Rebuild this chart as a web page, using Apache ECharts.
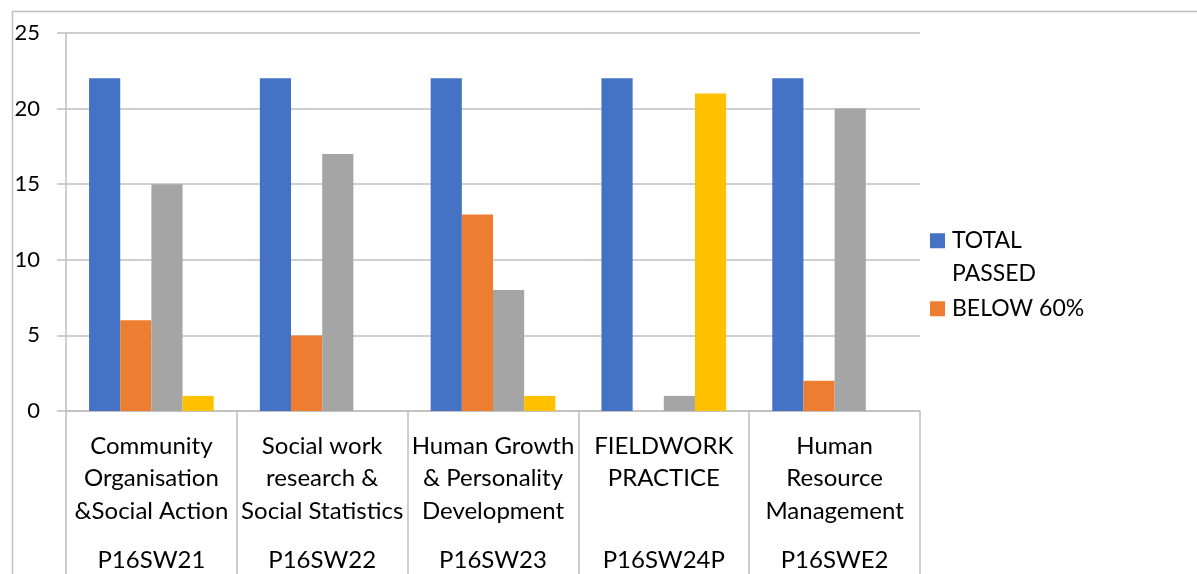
<!DOCTYPE html>
<html>
<head>
<meta charset="utf-8">
<script src="https://cdn.jsdelivr.net/npm/echarts@6/dist/echarts.min.js"></script>
<style>
  html, body { margin: 0; padding: 0; background: #fff; }
  #main { width: 1197px; height: 574px; }
</style>
</head>
<body>
<div id="main"></div>
<script>
// subject names (line breaks as in the original) and codes
var categories = [
  "Community\nOrganisation\n&Social Action",
  "Social work\nresearch &\nSocial Statistics",
  "Human Growth\n& Personality\nDevelopment",
  "FIELDWORK\nPRACTICE",
  "Human\nResource\nManagement"
];
var codes = ["P16SW21", "P16SW22", "P16SW23", "P16SW24P", "P16SWE2"];

var totalPassed = [22, 22, 22, 22, 22];
var below60 = [6, 5, 13, 0, 2];
var series3 = [15, 17, 8, 1, 20];
var series4 = [1, 0, 1, 21, 0];

var lineColor = "#bfbfbf";
var font = "Lato, 'Open Sans', sans-serif";

var myChart = echarts.init(document.getElementById("main"));

var option = {
  animation: false,
  textStyle: { fontFamily: font },
  // frame of the chart area
  graphic: [
    {
      type: "rect",
      left: 10,
      top: 9,
      shape: { width: 1200, height: 600 },
      style: { fill: "none", stroke: lineColor, lineWidth: 1.5 },
      silent: true
    }
  ],
  legend: {
    data: ["TOTAL PASSED", "BELOW 60%"],
    orient: "vertical",
    left: 930,
    top: 192,
    padding: 0,
    itemWidth: 15,
    itemHeight: 15,
    itemGap: 3,
    icon: "rect",
    // blank first line keeps the icon level with "TOTAL"
    formatter: function (name) {
      return name === "TOTAL PASSED" ? " \nTOTAL\nPASSED" : name;
    },
    textStyle: {
      fontFamily: font,
      fontSize: 23,
      color: "#000",
      lineHeight: 32.5,
      padding: [0, 0, 0, 2]
    }
  },
  grid: {
    left: 66,
    right: 277,
    top: 33,
    bottom: 163
  },
  xAxis: {
    type: "category",
    data: categories,
    axisLine: { lineStyle: { color: lineColor, width: 1.5 } },
    axisTick: {
      show: true,
      interval: 0,
      length: 170,
      lineStyle: { color: lineColor, width: 1.5 }
    },
    axisLabel: {
      interval: 0,
      margin: 19,
      formatter: function (value, idx) {
        var lines = value.split("\n");
        while (lines.length < 3) lines.push(" ");
        var s = lines.map(function (l) { return "{n|" + l + "}"; }).join("\n");
        return s + "\n{c|" + codes[idx] + "}";
      },
      rich: {
        n: { fontFamily: font, fontSize: 24, lineHeight: 32.5, color: "#000" },
        c: { fontFamily: font, fontSize: 24, lineHeight: 65, color: "#000" }
      }
    }
  },
  yAxis: {
    type: "value",
    min: 0,
    max: 25,
    interval: 5,
    axisLine: { show: true, lineStyle: { color: lineColor, width: 1.5 } },
    axisTick: { show: true, length: 9, lineStyle: { color: lineColor, width: 1.5 } },
    splitLine: { lineStyle: { color: lineColor, width: 1.5 } },
    axisLabel: {
      margin: 26,
      fontFamily: font,
      fontSize: 22,
      color: "#000"
    }
  },
  series: [
    {
      name: "TOTAL PASSED",
      type: "bar",
      data: totalPassed,
      barGap: "0%",
      barCategoryGap: "27%",
      itemStyle: { color: "#4472C4" }
    },
    {
      name: "BELOW 60%",
      type: "bar",
      data: below60,
      itemStyle: { color: "#ED7D31" }
    },
    {
      name: "ABOVE 60%",
      type: "bar",
      data: series3,
      itemStyle: { color: "#A5A5A5" }
    },
    {
      name: "FAILED",
      type: "bar",
      data: series4,
      itemStyle: { color: "#FFC000" }
    }
  ]
};

myChart.setOption(option);
</script>
</body>
</html>
